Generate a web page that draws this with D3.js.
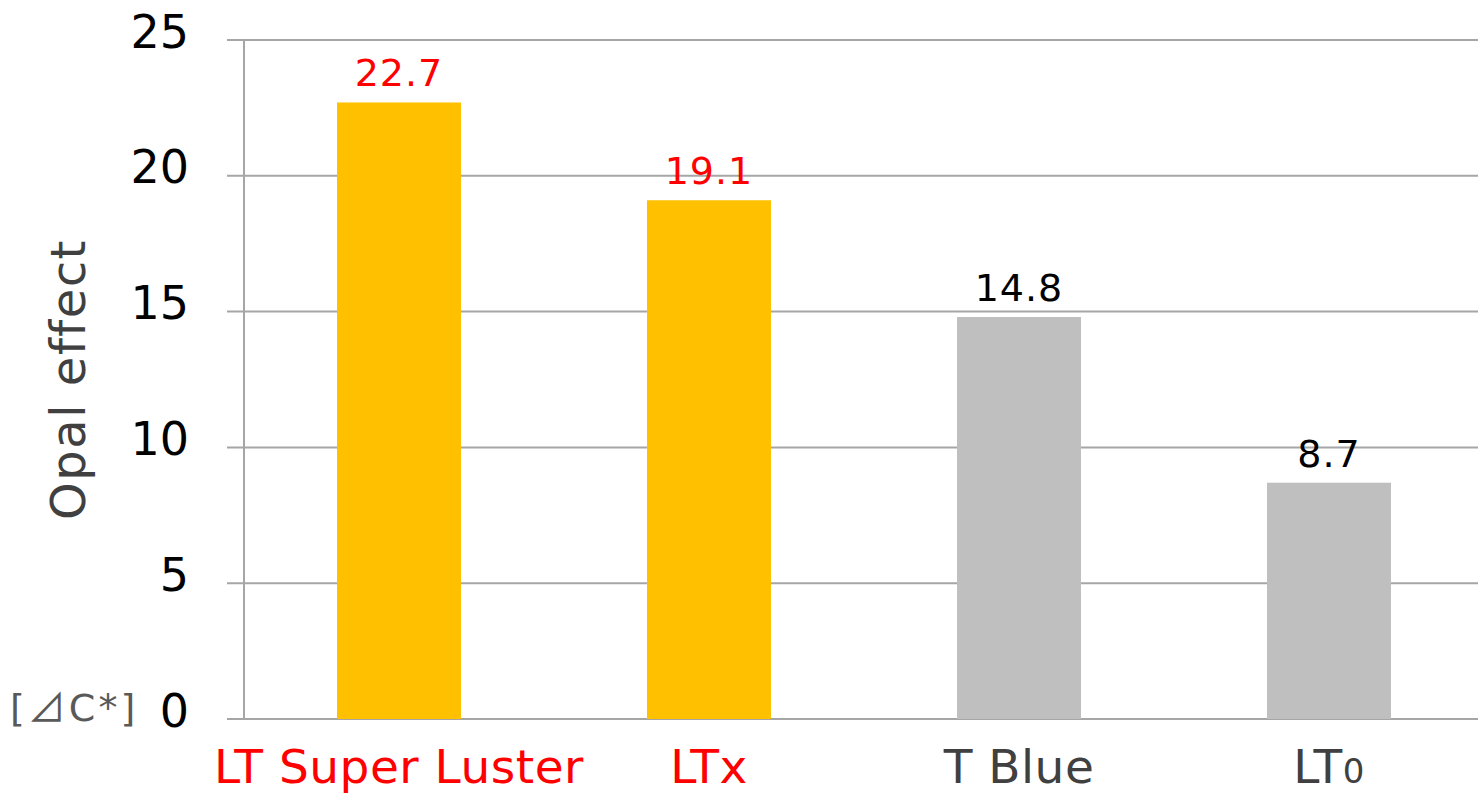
<!DOCTYPE html>
<meta charset="utf-8">
<html>
<head>
    <script src="https://d3js.org/d3.v7.js"></script>
    <style>
        body { margin: 0; background: #fff; }
        text { font-family: "DejaVu Sans", Verdana, sans-serif; }
    </style>
</head>
<body>
    <script type="module">

        // data
        const categories = ["LT Super Luster", "LTx", "T Blue", "LT0"];
        const values = [22.7, 19.1, 14.8, 8.7];
        const highlighted = [true, true, false, false];
        const yTicks = [0, 5, 10, 15, 20, 25];

        const width = 1478;
        const height = 794;
        const margin = { top: 40, right: -6, bottom: 75, left: 244 };

        const svg = d3.select('body')
            .append('svg')
            .attr('width', width)
            .attr('height', height);

        const x = d3.scaleBand()
            .domain(categories)
            .range([margin.left, width - margin.right])
            .paddingInner(0.6)
            .paddingOuter(0.3);

        const y = d3.scaleLinear()
            .domain([0, 25])
            .range([height - margin.bottom, margin.top]);

        const gridColor = '#a6a6a6';

        // gridlines (with short outer ticks to the left)
        svg.append('g')
            .selectAll('line')
            .data(yTicks)
            .enter()
            .append('line')
            .attr('x1', margin.left - 17)
            .attr('x2', width)
            .attr('y1', d => y(d))
            .attr('y2', d => y(d))
            .attr('stroke', gridColor)
            .attr('stroke-width', 2);

        // y axis line
        svg.append('line')
            .attr('x1', margin.left)
            .attr('x2', margin.left)
            .attr('y1', y(25))
            .attr('y2', y(0))
            .attr('stroke', gridColor)
            .attr('stroke-width', 2);

        // tick labels
        svg.append('g')
            .selectAll('text')
            .data(yTicks)
            .enter()
            .append('text')
            .attr('x', 189)
            .attr('y', d => y(d) - 9)
            .attr('dy', '0.36em')
            .attr('text-anchor', 'end')
            .style('font-size', '46px')
            .style('fill', '#000')
            .text(d => d);

        // bars
        svg.append('g')
            .selectAll('rect')
            .data(values)
            .enter()
            .append('rect')
            .attr('x', (d, i) => x(categories[i]))
            .attr('y', d => y(d))
            .attr('width', x.bandwidth())
            .attr('height', d => y(0) - y(d))
            .attr('fill', (d, i) => highlighted[i] ? '#ffc000' : '#bfbfbf');

        // value labels
        svg.append('g')
            .selectAll('text')
            .data(values)
            .enter()
            .append('text')
            .attr('x', (d, i) => x(categories[i]) + x.bandwidth() / 2)
            .attr('y', d => y(d) - 16)
            .attr('text-anchor', 'middle')
            .style('font-size', '38px')
            .style('letter-spacing', '1px')
            .style('fill', (d, i) => highlighted[i] ? '#ff0000' : '#000')
            .text(d => d.toFixed(1));

        // category labels (trailing digit drawn as subscript)
        const cats = svg.append('g')
            .selectAll('text')
            .data(categories)
            .enter()
            .append('text')
            .attr('x', d => x(d) + x.bandwidth() / 2)
            .attr('y', 783)
            .attr('text-anchor', 'middle')
            .style('font-size', '47px')
            .style('letter-spacing', '0.5px')
            .style('fill', (d, i) => highlighted[i] ? '#ff0000' : '#404040');

        cats.each(function (d) {
            const m = d.match(/^(.*?[A-Za-z])(\d)$/);
            const t = d3.select(this);
            if (m) {
                t.append('tspan').text(m[1]);
                t.append('tspan').style('font-size', '34px').text(m[2]);
            } else {
                t.text(d);
            }
        });

        // y axis title
        svg.append('text')
            .attr('transform', `translate(68, ${(y(0) + y(25)) / 2}) rotate(-90)`)
            .attr('text-anchor', 'middle')
            .attr('dy', '0.36em')
            .style('font-size', '48px')
            .style('letter-spacing', '1.5px')
            .style('fill', '#404040')
            .text('Opal effect');

        // unit label
        const unit = svg.append('text')
            .attr('x', 10)
            .attr('y', 721)
            .style('font-size', '38px')
            .style('fill', '#595959')
            .style('letter-spacing', '3px');
        unit.append('tspan').text('[');
        unit.append('tspan').style('font-family', '"Noto Sans CJK JP"').text('⊿');
        unit.append('tspan').text('C*]');

    </script>
</body>
</html>
